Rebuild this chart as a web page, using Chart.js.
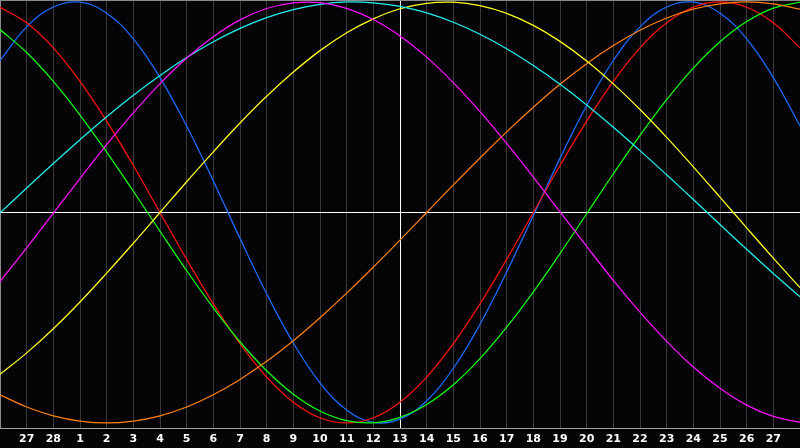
<!DOCTYPE html>
<html>
<head>
<meta charset="utf-8">
<script src="https://cdn.jsdelivr.net/npm/chart.js@4/dist/chart.umd.min.js"></script>
<style>
html,body{margin:0;padding:0;background:#050507;}
#wrap{width:800px;height:448px;position:relative;}
</style>
</head>
<body>
<div id="wrap"><canvas id="c"></canvas></div>
<script>
// day labels along the x axis (Feb, today = 13)
const days = ['26','27','28','1','2','3','4','5','6','7','8','9','10','11','12','13','14','15','16','17','18','19','20','21','22','23','24','25','26','27','28'];
const todayIndex = 15;

// curve values (-1..1), one per day
const physical23 = [0.721,0.882,0.976,0.999,0.947,0.825,0.641,0.411,0.150,-0.123,-0.386,-0.620,-0.809,-0.938,-0.997,-0.982,-0.894,-0.740,-0.531,-0.283,-0.014,0.257,0.508,0.722,0.882,0.976,0.999,0.947,0.825,0.641,0.411];
const emotional28 = [0.975,0.901,0.782,0.623,0.434,0.223,0.000,-0.223,-0.434,-0.623,-0.782,-0.901,-0.975,-1.000,-0.975,-0.901,-0.782,-0.623,-0.434,-0.223,0.000,0.223,0.434,0.623,0.782,0.901,0.975,1.000,0.975,0.901,0.782];
const intellectual33 = [0.869,0.760,0.623,0.463,0.287,0.101,-0.089,-0.276,-0.453,-0.614,-0.752,-0.863,-0.943,-0.989,-0.999,-0.973,-0.912,-0.818,-0.694,-0.545,-0.377,-0.195,-0.006,0.184,0.366,0.536,0.686,0.811,0.907,0.971,0.999];
const intuitive38 = [-0.328,-0.168,-0.003,0.161,0.322,0.473,0.612,0.734,0.835,0.915,0.969,0.996,0.997,0.970,0.917,0.839,0.738,0.617,0.479,0.328,0.168,0.003,-0.161,-0.322,-0.473,-0.612,-0.734,-0.835,-0.915,-0.969,-0.996];
const aesthetic43 = [-0.769,-0.667,-0.552,-0.425,-0.288,-0.146,0.000,0.146,0.288,0.425,0.552,0.667,0.769,0.854,0.920,0.968,0.994,0.999,0.983,0.946,0.889,0.813,0.720,0.611,0.489,0.357,0.217,0.073,-0.073,-0.217,-0.357];
const awareness48 = [-0.866,-0.924,-0.966,-0.991,-1.000,-0.991,-0.966,-0.924,-0.866,-0.793,-0.707,-0.609,-0.500,-0.383,-0.259,-0.131,0.000,0.131,0.259,0.383,0.500,0.609,0.707,0.793,0.866,0.924,0.966,0.991,1.000,0.991,0.966];
const spiritual53 = [-0.002,0.116,0.233,0.346,0.455,0.557,0.651,0.736,0.811,0.875,0.926,0.964,0.989,1.000,0.996,0.979,0.948,0.904,0.847,0.778,0.698,0.609,0.511,0.405,0.294,0.179,0.062,-0.057,-0.175,-0.290,-0.401];

const series = [
  {data: intuitive38, color: '#ff10ff'},
  {data: spiritual53, color: '#20f0f0'},
  {data: aesthetic43, color: '#ffff20'},
  {data: awareness48, color: '#ff8010'},
  {data: intellectual33, color: '#10ff10'},
  {data: emotional28, color: '#ff1010'},
  {data: physical23, color: '#1a6cff'}
];

const topBorder = {
  id: 'topBorder',
  afterDraw(chart) {
    const ctx = chart.ctx;
    ctx.save();
    ctx.strokeStyle = '#8a8a8a';
    ctx.lineWidth = 1;
    ctx.beginPath();
    ctx.moveTo(0, 0.5);
    ctx.lineTo(chart.width, 0.5);
    ctx.stroke();
    ctx.restore();
  }
};

new Chart(document.getElementById('c'), {
  type: 'line',
  data: {
    labels: days,
    datasets: series.map(s => ({
      data: s.data,
      borderColor: s.color,
      borderWidth: 1.25,
      pointRadius: 0,
      tension: 0.4,
      fill: false
    }))
  },
  options: {
    responsive: true,
    maintainAspectRatio: false,
    animation: false,
    layout: {padding: 0},
    plugins: {legend: {display: false}, tooltip: {enabled: false}},
    scales: {
      x: {
        type: 'category',
        offset: false,
        grid: {
          drawTicks: false,
          color: ctx => ctx.index === todayIndex ? '#ffffff' : (ctx.index === 0 ? '#8a8a8a' : (ctx.index === days.length - 1 ? 'rgba(0,0,0,0)' : '#3a3a3a')),
          lineWidth: 1
        },
        border: {display: true, color: '#a0a0a0', width: 1},
        ticks: {
          color: '#ffffff',
          font: {family: 'DejaVu Sans', size: 11, weight: 'bold'},
          padding: 5,
          autoSkip: false,
          maxRotation: 0,
          callback: function(val, idx) {
            if (idx === 0 || idx === days.length - 1) return '';
            return days[idx];
          }
        },
        afterFit: s => { s.height = 20; s.paddingLeft = 0; s.paddingRight = 0; }
      },
      y: {
        min: -1.0238,
        max: 1.0095,
        grid: {drawTicks: false, color: '#ffffff', lineWidth: 1},
        border: {display: false},
        ticks: {display: false},
        afterBuildTicks: s => { s.ticks = [{value: 0}]; },
        afterFit: s => { s.width = 0; }
      }
    }
  },
  plugins: [topBorder]
});
</script>
</body>
</html>
